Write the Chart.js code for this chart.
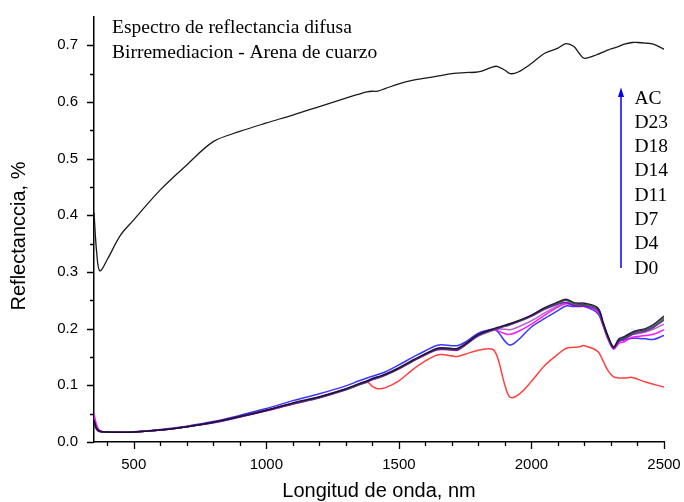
<!DOCTYPE html>
<html>
<head>
<meta charset="utf-8">
<script src="https://cdn.jsdelivr.net/npm/chart.js@4.4.1/dist/chart.umd.min.js"></script>
<style>
html,body{margin:0;padding:0;background:#fff;}
#wrap{width:684px;height:502px;position:relative;}
</style>
</head>
<body>
<div id="wrap"><canvas id="c" width="684" height="502"></canvas></div>
<script>
// ---- data ----
const wavelengths = [350,360,372,400,450,500,600,700,800,900,1000,1100,1200,1300,1350,1380,1400,1420,1450,1500,1550,1600,1650,1700,1720,1750,1800,1850,1870,1900,1920,1950,2000,2050,2100,2130,2160,2180,2200,2250,2270,2290,2310,2330,2350,2380,2400,2430,2460,2500];

const AC  = [0.405,0.335,0.302,0.322,0.365,0.392,0.445,0.489,0.530,0.548,0.563,0.577,0.592,0.607,0.614,0.618,0.619,0.619,0.624,0.632,0.638,0.642,0.646,0.650,0.651,0.652,0.653,0.661,0.663,0.656,0.650,0.653,0.668,0.686,0.695,0.703,0.698,0.686,0.677,0.684,0.688,0.692,0.695,0.698,0.702,0.705,0.705,0.704,0.702,0.693];
const D23 = [0.038,0.024,0.019,0.0175,0.017,0.0175,0.021,0.027,0.035,0.045,0.056,0.069,0.080,0.094,0.103,0.108,0.112,0.115,0.120,0.131,0.144,0.156,0.166,0.165,0.165,0.173,0.190,0.199,0.202,0.206,0.209,0.214,0.224,0.237,0.247,0.252,0.246,0.245,0.245,0.237,0.212,0.186,0.168,0.182,0.186,0.194,0.197,0.200,0.207,0.222];
const D18 = [0.036,0.023,0.019,0.0175,0.017,0.0175,0.021,0.027,0.035,0.045,0.056,0.068,0.079,0.093,0.102,0.107,0.111,0.114,0.119,0.130,0.143,0.155,0.165,0.164,0.164,0.172,0.189,0.198,0.201,0.205,0.208,0.213,0.223,0.236,0.245,0.250,0.244,0.243,0.243,0.235,0.210,0.184,0.167,0.180,0.184,0.192,0.195,0.198,0.204,0.218];
const D14 = [0.040,0.024,0.019,0.0175,0.017,0.0175,0.021,0.027,0.034,0.044,0.055,0.067,0.078,0.092,0.101,0.106,0.110,0.113,0.118,0.129,0.142,0.154,0.163,0.163,0.162,0.171,0.188,0.197,0.200,0.204,0.207,0.212,0.222,0.234,0.243,0.246,0.241,0.240,0.240,0.233,0.209,0.183,0.165,0.178,0.182,0.190,0.193,0.196,0.202,0.215];
const D11 = [0.042,0.025,0.019,0.0175,0.017,0.0175,0.021,0.027,0.034,0.044,0.055,0.067,0.078,0.092,0.101,0.106,0.110,0.113,0.118,0.129,0.142,0.154,0.163,0.162,0.162,0.171,0.187,0.196,0.199,0.199,0.198,0.203,0.214,0.228,0.240,0.246,0.242,0.241,0.241,0.232,0.208,0.182,0.165,0.178,0.181,0.189,0.191,0.194,0.199,0.208];
const D7  = [0.050,0.030,0.020,0.0175,0.017,0.0175,0.021,0.027,0.035,0.045,0.056,0.068,0.079,0.093,0.102,0.107,0.111,0.114,0.119,0.130,0.143,0.155,0.164,0.163,0.163,0.171,0.188,0.197,0.197,0.191,0.190,0.195,0.208,0.224,0.238,0.244,0.241,0.240,0.240,0.230,0.207,0.182,0.164,0.174,0.177,0.185,0.186,0.188,0.190,0.198];
const D4  = [0.034,0.022,0.018,0.0175,0.017,0.018,0.022,0.028,0.036,0.047,0.059,0.073,0.085,0.099,0.108,0.113,0.116,0.119,0.124,0.136,0.149,0.161,0.171,0.170,0.170,0.176,0.192,0.198,0.196,0.178,0.171,0.180,0.203,0.218,0.232,0.240,0.239,0.239,0.239,0.227,0.205,0.180,0.167,0.177,0.180,0.183,0.183,0.182,0.181,0.188];
const D0  = [0.036,0.023,0.019,0.0175,0.017,0.0175,0.021,0.027,0.035,0.045,0.056,0.068,0.079,0.093,0.102,0.106,0.098,0.094,0.096,0.108,0.127,0.143,0.154,0.152,0.151,0.155,0.162,0.164,0.152,0.100,0.079,0.083,0.107,0.135,0.155,0.165,0.167,0.168,0.170,0.160,0.143,0.125,0.115,0.113,0.113,0.114,0.111,0.106,0.102,0.097];

const seriesNames = ["D0","D4","D7","D11","D14","D18","D23","AC"];
const legendLabels = ["AC","D23","D18","D14","D11","D7","D4","D0"];
const xTicks = [500,1000,1500,2000,2500];
const xMinorTicks = [400,600,700,800,900,1100,1200,1300,1400,1600,1700,1800,1900,2100,2200,2300,2400];
const yTicks = [0,0.1,0.2,0.3,0.4,0.5,0.6,0.7];
const yMinorTicks = [0.05,0.15,0.25,0.35,0.45,0.55,0.65];
const titleLines = ["Espectro de reflectancia difusa","Birremediacion - Arena de cuarzo"];
const xTitle = "Longitud de onda, nm";
const yTitle = "Reflectanccia, %";

// ---- chart ----
const seriesValues = {D0, D4, D7, D11, D14, D18, D23, AC};
const colors = {D0:'rgba(255,30,30,0.85)', D4:'rgba(20,20,255,0.85)', D7:'rgba(255,0,255,0.9)', D11:'rgba(170,90,190,0.9)', D14:'rgba(130,0,210,0.9)', D18:'rgba(0,110,0,0.9)', D23:'rgba(40,0,70,0.9)', AC:'#1a1a1a'};
const orders = {D0:7, D4:6, D7:5, D11:4, D14:3, D18:2, D23:1, AC:0};

const datasets = seriesNames.map(n => ({
  label: n,
  data: wavelengths.map((w,i) => ({x:w, y:seriesValues[n][i]})),
  borderColor: colors[n],
  borderWidth: n === 'AC' ? 1.3 : 1.5,
  pointRadius: 0,
  tension: 0.35,
  fill: false,
  order: orders[n]
}));

const FONT_SANS = '"Liberation Sans", Arial, sans-serif';
const FONT_SERIF = '"Liberation Serif", "Times New Roman", serif';

function zeroPad(s) { s.paddingTop = 0; s.paddingBottom = 0; s.paddingLeft = 0; s.paddingRight = 0; }

const deco = {
  id: 'deco',
  afterDraw(chart) {
    const ctx = chart.ctx;
    const xs = chart.scales.x, ys = chart.scales.y;
    const ca = chart.chartArea;
    ctx.save();
    ctx.strokeStyle = '#000';
    ctx.lineWidth = 1.3;
    ctx.beginPath();
    xTicks.forEach(v => { const p = Math.round(xs.getPixelForValue(v)) + 0.5; ctx.moveTo(p, ca.bottom); ctx.lineTo(p, ca.bottom + 7); });
    xMinorTicks.forEach(v => { const p = Math.round(xs.getPixelForValue(v)) + 0.5; ctx.moveTo(p, ca.bottom); ctx.lineTo(p, ca.bottom + 4); });
    yTicks.forEach(v => { const p = Math.round(ys.getPixelForValue(v)) + 0.5; ctx.moveTo(ca.left, p); ctx.lineTo(ca.left - 7, p); });
    yMinorTicks.forEach(v => { const p = Math.round(ys.getPixelForValue(v)) + 0.5; ctx.moveTo(ca.left, p); ctx.lineTo(ca.left - 4, p); });
    ctx.stroke();

    // axis titles
    ctx.fillStyle = '#000';
    ctx.font = '20px ' + FONT_SANS;
    ctx.textAlign = 'center';
    ctx.textBaseline = 'alphabetic';
    ctx.fillText(xTitle, (ca.left + ca.right) / 2, 497);
    ctx.save();
    ctx.translate(25, 236);
    ctx.rotate(-Math.PI / 2);
    ctx.fillText(yTitle, 0, 0);
    ctx.restore();

    // title text
    ctx.font = '19.5px ' + FONT_SERIF;
    ctx.textAlign = 'left';
    ctx.textBaseline = 'alphabetic';
    titleLines.forEach((t, i) => ctx.fillText(t, 112, 32.5 + i * 25));

    // legend arrow + labels
    ctx.font = '19.5px ' + FONT_SERIF;
    legendLabels.forEach((t, i) => ctx.fillText(t, 634.5, 103.5 + i * 24.3));
    ctx.strokeStyle = '#0000ff';
    ctx.fillStyle = '#0000ff';
    ctx.lineWidth = 1.5;
    ctx.beginPath();
    ctx.moveTo(621, 268); ctx.lineTo(621, 94);
    ctx.stroke();
    ctx.beginPath();
    ctx.moveTo(621, 87.5); ctx.lineTo(618, 97); ctx.lineTo(624, 97); ctx.closePath();
    ctx.fill();
    ctx.restore();
  }
};

new Chart(document.getElementById('c'), {
  type: 'line',
  data: { datasets },
  options: {
    responsive: false,
    animation: false,
    devicePixelRatio: 1,
    layout: { padding: { left: 0, right: 20, top: 17, bottom: 0 } },
    plugins: { legend: { display: false }, tooltip: { enabled: false }, title: { display: false } },
    scales: {
      x: {
        type: 'linear', min: 350, max: 2500,
        afterBuildTicks: s => { s.ticks = xTicks.map(v => ({value: v})); },
        afterFit: s => { s.height = 60; zeroPad(s); },
        grid: { display: false, drawTicks: false },
        border: { display: true, color: '#000', width: 1.5 },
        ticks: { color: '#000', font: { family: FONT_SANS, size: 15 }, padding: 14, maxRotation: 0, autoSkip: false, callback: v => String(v) }
      },
      y: {
        type: 'linear', min: 0, max: 0.75,
        afterBuildTicks: s => { s.ticks = yTicks.map(v => ({value: v})); },
        afterFit: s => { s.width = 94; zeroPad(s); },
        grid: { display: false, drawTicks: false },
        border: { display: true, color: '#000', width: 1.5 },
        ticks: { color: '#000', font: { family: FONT_SANS, size: 15 }, padding: 16, autoSkip: false, callback: v => Number(v).toFixed(1) }
      }
    }
  },
  plugins: [deco]
});
</script>
</body>
</html>
